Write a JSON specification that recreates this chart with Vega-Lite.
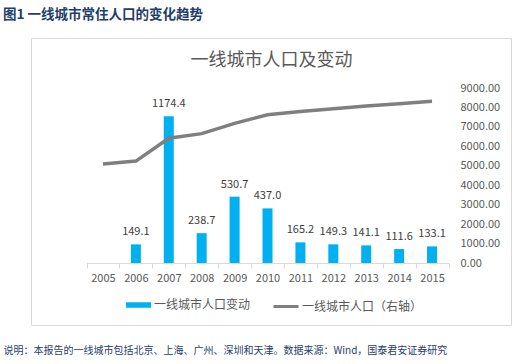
{
  "$schema": "https://vega.github.io/schema/vega-lite/v6.json",
  "width": 480,
  "height": 287,
  "autosize": {"type": "none"},
  "padding": {"left": 31, "top": 38, "right": 5, "bottom": 39},
  "background": "white",
  "title": {"text": "图1  一线城市常住人口的变化趋势", "anchor": "start", "frame": "group", "dx": -28, "offset": 3, "fontSize": 13.5, "fontWeight": "bold", "color": "#1F3E6B", "baseline": "bottom"},
  "data": {"values": [
    {"year": "2005", "change": null, "pop": 5090},
    {"year": "2006", "change": 149.1, "pop": 5240},
    {"year": "2007", "change": 1174.4, "pop": 6414},
    {"year": "2008", "change": 238.7, "pop": 6653},
    {"year": "2009", "change": 530.7, "pop": 7184},
    {"year": "2010", "change": 437.0, "pop": 7621},
    {"year": "2011", "change": 165.2, "pop": 7786},
    {"year": "2012", "change": 149.3, "pop": 7935},
    {"year": "2013", "change": 141.1, "pop": 8076},
    {"year": "2014", "change": 111.6, "pop": 8188},
    {"year": "2015", "change": 133.1, "pop": 8321}
  ]},
  "encoding": {
    "x": {
      "field": "year", "type": "ordinal",
      "scale": {"range": [55.5, 417.5], "paddingInner": 0, "paddingOuter": 0},
      "axis": {
        "orient": "bottom", "offset": -62, "labelAngle": 0, "domainColor": "#d9d9d9", "tickColor": "#d9d9d9", "tickSize": 5, "tickBand": "extent",
        "labelPadding": 4, "labelColor": "#595959", "labelFontSize": 11, "grid": false,
        "title": "说明：本报告的一线城市包括北京、上海、广州、深圳和天津。数据来源：Wind，国泰君安证券研究",
        "titleX": -28, "titleY": 87, "titleAlign": "left", "titleAnchor": "start", "titleBaseline": "middle", "titleFontSize": 10, "titleFontWeight": "normal", "titleColor": "#1F3E6B"
      }
    }
  },
  "layer": [
    {
      "layer": [
        {
          "mark": {"type": "bar", "size": 10},
          "encoding": {
            "y": {"field": "change", "type": "quantitative",
              "scale": {"domain": [0, 1400], "range": [225, 50], "nice": false, "zero": true},
              "axis": {"orient": "left", "offset": -42, "values": [0, 200, 400, 600, 800, 1000, 1200, 1400], "format": ".1f", "domain": false, "ticks": false, "tickSize": 0, "labelPadding": 0, "grid": false, "labelColor": "#595959", "labelFontSize": 11, "title": null}
            },
            "fill": {"datum": "一线城市人口变动", "scale": {"range": ["#00B0F0"]},
              "legend": {"orient": "none", "legendX": 95, "legendY": 254.5, "title": null, "symbolType": "M-1,-0.22H1V0.22H-1Z", "symbolSize": 625, "symbolStrokeWidth": 0, "labelFontSize": 12, "labelColor": "#595959", "labelOffset": 3, "padding": 0}
            }
          }
        },
        {
          "mark": {"type": "text", "baseline": "bottom", "dy": -7, "fontSize": 11, "color": "#404040"},
          "encoding": {
            "y": {"field": "change", "type": "quantitative", "axis": null},
            "text": {"field": "change", "type": "quantitative", "format": ".1f"}
          }
        }
      ]
    },
    {
      "mark": {"type": "line", "strokeWidth": 3.5},
      "encoding": {
        "y": {"field": "pop", "type": "quantitative",
          "scale": {"domain": [0, 9000], "range": [225, 50], "nice": false},
          "axis": {"orient": "right", "offset": -51, "values": [0, 1000, 2000, 3000, 4000, 5000, 6000, 7000, 8000, 9000], "format": ".2f", "domain": false, "ticks": false, "tickSize": 0, "labelPadding": 0, "grid": false, "labelColor": "#595959", "labelFontSize": 11,
            "title": "一线城市人口及变动", "titleAngle": 0, "titleX": -189, "titleY": 31, "titleAlign": "center", "titleBaseline": "bottom", "titleFontSize": 18, "titleFontWeight": "normal", "titleColor": "#595959"}
        },
        "stroke": {"datum": "一线城市人口（右轴）", "scale": {"range": ["#7F7F7F"]},
          "legend": {"orient": "none", "legendX": 241, "legendY": 254.5, "title": null, "symbolType": "stroke", "symbolSize": 625, "symbolStrokeWidth": 3, "labelFontSize": 12, "labelColor": "#595959", "labelOffset": 2, "padding": 0}
        }
      }
    }
  ],
  "resolve": {"scale": {"y": "independent"}},
  "config": {"font": "Noto Sans CJK SC", "view": {"stroke": "#d9d9d9", "strokeWidth": 1}}
}
